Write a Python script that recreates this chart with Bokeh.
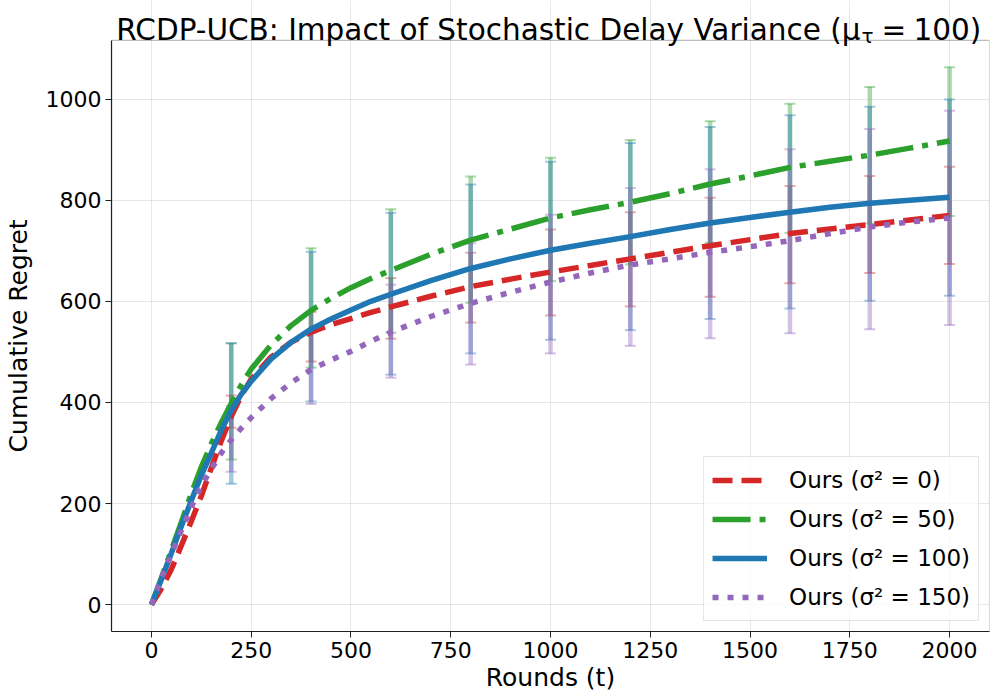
from bokeh.plotting import figure
from bokeh.models import (ColumnDataSource, Range1d, Label, Legend, LegendItem,
                          FixedTicker, BoxAnnotation)
from bokeh.embed import file_html
from bokeh.resources import INLINE

# ---- data ----
rounds = [0, 25, 50, 75, 100, 125, 150, 175, 200, 225, 250, 300, 350, 400, 450, 500, 550,
          600, 700, 800, 900, 1000, 1100, 1200, 1300, 1400, 1500, 1600, 1700, 1800, 1900, 2000]

regret_s0 = [0, 32, 70, 117, 165, 215, 270, 324, 372, 413, 446, 490, 519, 539, 554, 566, 578,
             589, 610, 629, 644, 658, 671, 684, 697, 710, 722, 734, 743, 752, 761, 770]
regret_s50 = [0, 53, 108, 163, 220, 272, 318, 360, 398, 434, 466, 514, 552, 582, 606, 627, 645,
              661, 693, 721, 743, 765, 781, 796, 813, 832, 848, 865, 877, 889, 903, 917]
regret_s100 = [0, 50, 102, 155, 206, 256, 300, 345, 384, 416, 442, 486, 519, 545, 565, 583, 600,
               614, 641, 665, 684, 701, 715, 728, 742, 755, 766, 776, 786, 794, 800, 806]
regret_s150 = [0, 53, 100, 147, 193, 235, 268, 300, 326, 349, 370, 408, 439, 465, 484, 501, 521,
               539, 570, 596, 618, 638, 656, 672, 684, 697, 708, 720, 734, 747, 757, 765]

err_rounds = [200, 400, 600, 800, 1000, 1200, 1400, 1600, 1800, 2000]
err_mean_s0 = [382, 530, 586, 627, 657, 683, 707, 732, 752, 770]
err_sd_s0 = [32, 49, 60, 69, 85, 93, 98, 96, 96, 96]
err_mean_s50 = [402, 587, 660, 722, 762, 796, 836, 863, 889, 916]
err_sd_s50 = [115, 118, 122, 125, 122, 123, 120, 128, 135, 147]
err_mean_s100 = [378, 550, 615, 664, 700, 728, 755, 777, 793, 805]
err_sd_s100 = [139, 148, 160, 167, 176, 185, 190, 191, 192, 194]
err_mean_s150 = [328, 467, 541, 595, 634, 668, 694, 719, 743, 765]
err_sd_s150 = [65, 70, 92, 120, 137, 156, 167, 182, 198, 212]

labels = ["Ours (σ² = 0)", "Ours (σ² = 50)", "Ours (σ² = 100)", "Ours (σ² = 150)"]
x_ticks = [0, 250, 500, 750, 1000, 1250, 1500, 1750, 2000]
y_ticks = [0, 200, 400, 600, 800, 1000]

FONT = "DejaVu Sans"
colors = ["#d62728", "#2ca02c", "#1f77b4", "#9467bd"]
dashes = ["20 9", "38 9 6 9", "solid", "6 9"]

# axes limits and layout
X_LO, X_HI = -100, 2100
Y_LO, Y_HI = -53, 1116
W, H = 991, 694
BORDER_LEFT, BORDER_RIGHT, BORDER_BOTTOM = 108, 2, 62
TOP_GAP = 40  # room for the title, inside the (extended) frame
frame_h = H - BORDER_BOTTOM
axes_h = frame_h - TOP_GAP
y_end = Y_HI + TOP_GAP * (Y_HI - Y_LO) / axes_h

p = figure(width=W, height=H, output_backend="svg", toolbar_location=None,
           x_range=Range1d(X_LO, X_HI), y_range=Range1d(Y_LO, y_end),
           min_border_left=BORDER_LEFT, min_border_right=BORDER_RIGHT,
           min_border_top=0, min_border_bottom=BORDER_BOTTOM)
p.title.visible = False
p.background_fill_color = "white"
p.border_fill_color = "white"
p.outline_line_color = None

for ax in (p.xaxis[0], p.yaxis[0]):
    ax.major_label_text_font = FONT
    ax.major_label_text_font_size = "22px"
    ax.major_label_text_color = "black"
    ax.axis_label_text_font = FONT
    ax.axis_label_text_font_size = "25px"
    ax.axis_label_text_font_style = "normal"
    ax.axis_label_text_color = "black"
    ax.axis_line_color = "#222222"
    ax.axis_line_width = 1.2
    ax.major_tick_line_color = "#222222"
    ax.major_tick_out = 6
    ax.major_tick_in = 0
    ax.minor_tick_line_color = None
    ax.major_label_standoff = 4

p.xaxis[0].ticker = FixedTicker(ticks=x_ticks)
p.yaxis[0].ticker = FixedTicker(ticks=y_ticks)
p.yaxis[0].bounds = (Y_LO, Y_HI)
p.xaxis[0].axis_label = "Rounds (t)"
# trailing no-break spaces recentre the label on the axes box (not the taller frame)
p.yaxis[0].axis_label = "Cumulative Regret" + "\u00a0" * 5
p.xaxis[0].axis_label_standoff = 2
p.yaxis[0].axis_label_standoff = 10

p.grid.grid_line_color = "#b0b0b0"
p.grid.grid_line_alpha = 0.3
p.grid.grid_line_width = 1
p.xgrid[0].bounds = (Y_LO, Y_HI)

# axes box (spines)
p.add_layout(BoxAnnotation(left=X_LO, right=X_HI, bottom=Y_LO, top=Y_HI,
                           fill_alpha=0, line_color="#222222", line_width=1.2))

series = [regret_s0, regret_s50, regret_s100, regret_s150]
emeans = [err_mean_s0, err_mean_s50, err_mean_s100, err_mean_s150]
esds = [err_sd_s0, err_sd_s50, err_sd_s100, err_sd_s150]

# error bars
for c, m, s in zip(colors, emeans, esds):
    lo = [a - b for a, b in zip(m, s)]
    hi = [a + b for a, b in zip(m, s)]
    src = ColumnDataSource(dict(x=err_rounds, lo=lo, hi=hi))
    p.segment(x0="x", y0="lo", x1="x", y1="hi", source=src, line_color=c,
              line_alpha=0.4, line_width=4.5)
    p.scatter(x="x", y="lo", source=src, marker="dash", size=11, line_color=c,
              line_alpha=0.4, line_width=2)
    p.scatter(x="x", y="hi", source=src, marker="dash", size=11, line_color=c,
              line_alpha=0.4, line_width=2)

items = []
for c, d, ys, lab in zip(colors, dashes, series, labels):
    src = ColumnDataSource(dict(x=rounds, y=ys))
    r = p.line(x="x", y="y", source=src, line_color=c, line_width=5.5, line_dash=d)
    items.append(LegendItem(label=lab, renderers=[r]))

legend = Legend(items=items, location="bottom_right",
                label_text_font=FONT, label_text_font_size="23px", label_text_color="black",
                glyph_width=55, glyph_height=30, label_height=30, label_standoff=22,
                spacing=9, padding=8, margin=10,
                border_line_color="#cccccc", border_line_width=1,
                background_fill_color="white", background_fill_alpha=0.8)
p.add_layout(legend)

# title with subscript tau, placed in the top gap of the frame
base_y = frame_h - 30
TS = "29.5px"
p.add_layout(Label(x=749, y=base_y, x_units="screen", y_units="screen",
                   text="RCDP-UCB: Impact of Stochastic Delay Variance (μ",
                   text_align="right", text_baseline="alphabetic",
                   text_font=FONT, text_font_size=TS, text_color="black"))
p.add_layout(Label(x=750, y=base_y - 6, x_units="screen", y_units="screen",
                   text="τ", text_align="left", text_baseline="alphabetic",
                   text_font=FONT, text_font_size="20px", text_color="black"))
p.add_layout(Label(x=770, y=base_y, x_units="screen", y_units="screen",
                   text="=", text_align="left", text_baseline="alphabetic",
                   text_font=FONT, text_font_size=TS, text_color="black"))
p.add_layout(Label(x=802, y=base_y, x_units="screen", y_units="screen",
                   text="100)", text_align="left", text_baseline="alphabetic",
                   text_font=FONT, text_font_size=TS, text_color="black"))

open("out.html", "w").write(file_html(p, INLINE))
